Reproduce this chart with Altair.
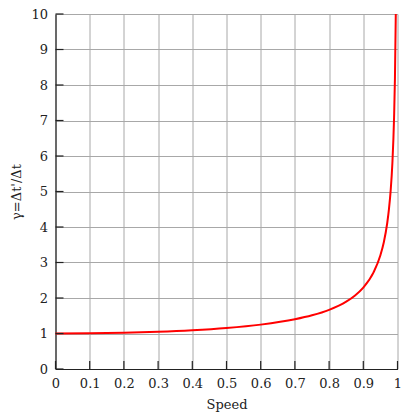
import altair as alt
import pandas as pd

speed = [0.0, 0.1, 0.2, 0.3, 0.4, 0.5, 0.6, 0.7, 0.75, 0.8, 0.85, 0.875, 0.9,
         0.93, 0.95, 0.96, 0.97, 0.975, 0.98, 0.985, 0.99, 0.9925, 0.995]
gamma = [1.0, 1.005, 1.021, 1.048, 1.091, 1.155, 1.25, 1.40, 1.512, 1.667,
         1.898, 2.066, 2.294, 2.721, 3.203, 3.571, 4.113, 4.502, 5.025,
         5.795, 7.089, 8.176, 10.0]

x_ticks = [0, 0.1, 0.2, 0.3, 0.4, 0.5, 0.6, 0.7, 0.8, 0.9, 1]
y_ticks = [0, 1, 2, 3, 4, 5, 6, 7, 8, 9, 10]

W, H = 342, 355
df = pd.DataFrame({"speed": speed, "gamma": gamma})
FONT = "DejaVu Serif"

xscale = alt.Scale(domain=[0, 1], nice=False, zero=False)
yscale = alt.Scale(domain=[0, 10], nice=False)

xaxis = alt.Axis(values=x_ticks, title="Speed", ticks=False,
                 labelOverlap=False, labelFlush=False,
                 labelExpr="datum.value == 0 ? '0' : datum.value == 1 ? '1' : format(datum.value, '.1f')",
                 titlePadding=8)
yaxis = alt.Axis(values=y_ticks, title="γ=Δt'/Δt", ticks=False,
                 labelOverlap=False, labelFlush=False, titlePadding=7)

line = alt.Chart(df).mark_line(color="#ff0000", strokeWidth=2, interpolate="monotone").encode(
    x=alt.X("speed:Q", scale=xscale, axis=xaxis),
    y=alt.Y("gamma:Q", scale=yscale, axis=yaxis),
)

xt = alt.Chart(pd.DataFrame({"speed": x_ticks})).mark_rule(color="#222", strokeWidth=1.2).encode(
    x=alt.X("speed:Q", scale=xscale, axis=xaxis),
    y=alt.value(H), y2=alt.value(H - 8),
)
yt = alt.Chart(pd.DataFrame({"gamma": y_ticks})).mark_rule(color="#222", strokeWidth=1.2).encode(
    y=alt.Y("gamma:Q", scale=yscale, axis=yaxis),
    x=alt.value(0), x2=alt.value(8),
)

chart = alt.layer(line, xt, yt).properties(
    width=W, height=H,
    autosize=alt.AutoSizeParams(type="none"),
    padding={"left": 47.5, "top": 6, "right": 10, "bottom": 45},
).configure(font=FONT).configure_axis(
    labelFont=FONT, titleFont=FONT, labelFontSize=13, titleFontSize=13,
    titleFontWeight="normal", labelColor="#222", titleColor="#222",
    domainColor="#222", domainWidth=1.2, labelPadding=8,
    gridColor="#a8a8a8", gridWidth=1, gridOpacity=1,
).configure_view(stroke=None)

chart.save("out.html", embed_options={"renderer": "svg", "actions": False})
